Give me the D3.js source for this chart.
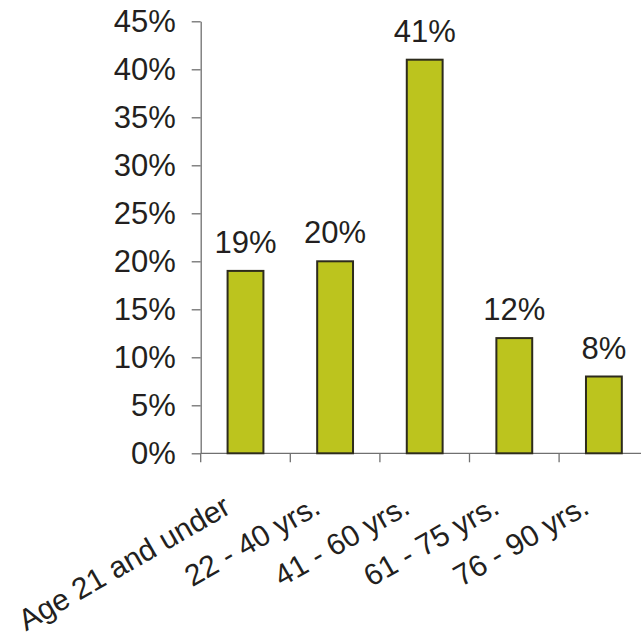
<!DOCTYPE html>
<html>
<head>
<meta charset="utf-8">
<script src="https://cdn.jsdelivr.net/npm/d3@7/dist/d3.min.js"></script>
<style>
  html, body { margin: 0; padding: 0; background: #ffffff; }
  svg { display: block; }
  text { font-family: "Liberation Sans", Arial, sans-serif; fill: #231f20; }
</style>
</head>
<body>
<svg id="chart" width="641" height="638"></svg>
<script>
// Age groups and their share of respondents (percent)
const categories = ["Age 21 and under", "22 - 40 yrs.", "41 - 60 yrs.", "61 - 75 yrs.", "76 - 90 yrs."];
const shares = [19, 20, 41, 12, 8];
const yTicks = [0, 5, 10, 15, 20, 25, 30, 35, 40, 45];

const svg = d3.select("#chart");
const W = 641, H = 638;

const x0 = 200.7, plotW = 448;   // axis runs past the right edge
const yTop = 21.3, yBottom = 453.3;

const x = d3.scaleBand()
  .domain(categories)
  .range([x0, x0 + plotW])
  .paddingInner(0.6)
  .paddingOuter(0.3);

const y = d3.scaleLinear()
  .domain([0, 45])
  .range([yBottom, yTop]);

const axisColor = "#707070";
const fontSize = 31;
const catFontSize = 30;

// Y axis
const yAxis = svg.append("g")
  .attr("transform", `translate(${x0},0)`)
  .call(d3.axisLeft(y)
    .tickValues(yTicks)
    .tickFormat(d => d + "%")
    .tickSize(9)
    .tickSizeOuter(0)
    .tickPadding(16));
yAxis.select(".domain").attr("stroke", axisColor).attr("stroke-width", 1.3);
yAxis.selectAll(".tick line").attr("stroke", axisColor).attr("stroke-width", 1.3);
yAxis.selectAll(".tick text")
  .attr("font-size", fontSize)
  .attr("font-family", "Liberation Sans, Arial, sans-serif")
  .attr("fill", "#231f20");

// X axis: baseline, boundary ticks between categories, rotated labels
const xAxis = svg.append("g").attr("transform", `translate(0,${yBottom})`);
xAxis.append("line")
  .attr("x1", x0).attr("x2", W + 5)
  .attr("y1", 0).attr("y2", 0)
  .attr("stroke", axisColor).attr("stroke-width", 1.3);

const boundaries = d3.range(categories.length + 1).map(i => x0 + i * x.step());
xAxis.selectAll("line.boundary")
  .data(boundaries)
  .join("line")
  .attr("class", "boundary")
  .attr("x1", d => d).attr("x2", d => d)
  .attr("y1", 0).attr("y2", 9)
  .attr("stroke", axisColor).attr("stroke-width", 1.3);

xAxis.selectAll("text.cat")
  .data(categories)
  .join("text")
  .attr("class", "cat")
  .attr("transform", d => `translate(${x(d) + x.bandwidth() / 2 - 13},${59}) rotate(-30)`)
  .attr("text-anchor", "end")
  .attr("font-size", catFontSize)
  .text(d => d);

// Bars
const data = categories.map((c, i) => ({ c, v: shares[i] }));
svg.append("g")
  .selectAll("rect")
  .data(data)
  .join("rect")
  .attr("x", d => x(d.c))
  .attr("y", d => y(d.v))
  .attr("width", x.bandwidth())
  .attr("height", d => y(0) - y(d.v))
  .attr("fill", "#bcc41e")
  .attr("stroke", "#2d2b1c")
  .attr("stroke-width", 2);

// Value labels
svg.append("g")
  .selectAll("text")
  .data(data)
  .join("text")
  .attr("x", d => x(d.c) + x.bandwidth() / 2)
  .attr("y", d => y(d.v) - 18)
  .attr("text-anchor", "middle")
  .attr("font-size", fontSize)
  .text(d => d.v + "%");
</script>
</body>
</html>
